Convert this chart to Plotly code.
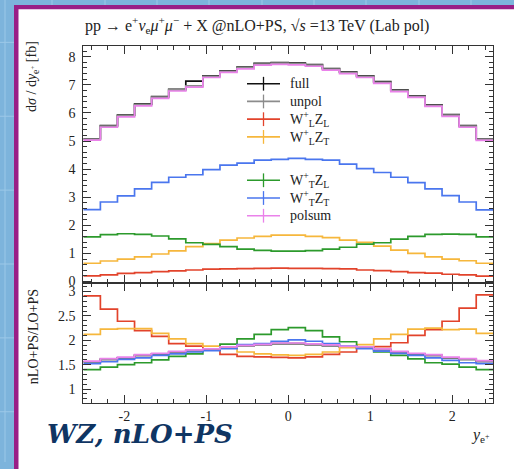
import numpy as np
import plotly.graph_objects as go

W, H = 514, 469

# ---------------- data ----------------
bin_edges = np.linspace(-2.5, 2.5, 25)

full   = [5.08, 5.55, 5.92, 6.31, 6.58, 6.84, 7.13, 7.32, 7.50, 7.63, 7.76, 7.79,
          7.77, 7.72, 7.58, 7.46, 7.32, 7.11, 6.82, 6.61, 6.29, 5.94, 5.55, 5.08]
unpol  = [5.07, 5.53, 5.90, 6.29, 6.56, 6.82, 6.96, 7.30, 7.48, 7.61, 7.74, 7.77,
          7.75, 7.70, 7.56, 7.44, 7.30, 7.09, 6.80, 6.59, 6.27, 5.92, 5.53, 5.07]
wlzl   = [0.20, 0.24, 0.29, 0.32, 0.35, 0.38, 0.41, 0.44, 0.45, 0.46, 0.47, 0.48,
          0.47, 0.47, 0.46, 0.45, 0.41, 0.39, 0.35, 0.32, 0.30, 0.26, 0.24, 0.19]
wlzt   = [0.65, 0.73, 0.80, 0.88, 0.98, 1.09, 1.24, 1.35, 1.47, 1.55, 1.61, 1.65,
          1.65, 1.61, 1.56, 1.47, 1.39, 1.26, 1.12, 1.00, 0.88, 0.80, 0.74, 0.65]
wtzl   = [1.59, 1.67, 1.70, 1.68, 1.62, 1.52, 1.38, 1.32, 1.24, 1.15, 1.11, 1.08,
          1.08, 1.10, 1.15, 1.22, 1.33, 1.38, 1.51, 1.61, 1.68, 1.69, 1.68, 1.59]
wtzt   = [2.56, 2.83, 3.05, 3.30, 3.53, 3.71, 3.80, 3.98, 4.14, 4.21, 4.32, 4.35,
          4.38, 4.35, 4.32, 4.18, 4.02, 3.88, 3.71, 3.52, 3.30, 3.06, 2.83, 2.55]
polsum = [5.03, 5.49, 5.86, 6.25, 6.52, 6.78, 6.92, 7.26, 7.44, 7.57, 7.70, 7.73,
          7.71, 7.66, 7.52, 7.40, 7.26, 7.05, 6.76, 6.55, 6.23, 5.88, 5.49, 5.02]

r_full   = [1.56, 1.61, 1.64, 1.69, 1.72, 1.76, 1.79, 1.81, 1.85, 1.88, 1.90, 1.93,
            1.93, 1.91, 1.89, 1.86, 1.85, 1.81, 1.76, 1.72, 1.69, 1.64, 1.61, 1.57]
r_unpol  = [1.56, 1.61, 1.64, 1.69, 1.72, 1.76, 1.79, 1.81, 1.85, 1.88, 1.90, 1.93,
            1.93, 1.91, 1.89, 1.86, 1.85, 1.81, 1.76, 1.72, 1.69, 1.64, 1.61, 1.57]
r_wlzl   = [2.91, 2.64, 2.39, 2.20, 2.08, 1.93, 1.88, 1.81, 1.71, 1.67, 1.66, 1.65,
            1.64, 1.66, 1.71, 1.76, 1.85, 1.87, 1.95, 2.10, 2.22, 2.39, 2.66, 2.93]
r_wlzt   = [2.12, 2.23, 2.24, 2.24, 2.14, 2.03, 1.93, 1.88, 1.85, 1.76, 1.72, 1.70,
            1.69, 1.71, 1.76, 1.85, 1.91, 2.03, 2.12, 2.23, 2.25, 2.22, 2.23, 2.14]
r_wtzl   = [1.40, 1.45, 1.50, 1.54, 1.60, 1.67, 1.72, 1.80, 1.92, 2.03, 2.12, 2.22,
            2.26, 2.20, 2.07, 1.97, 1.85, 1.76, 1.69, 1.62, 1.54, 1.51, 1.45, 1.40]
r_wtzt   = [1.52, 1.56, 1.61, 1.64, 1.69, 1.72, 1.76, 1.79, 1.83, 1.91, 1.93, 1.98,
            2.01, 1.98, 1.93, 1.88, 1.83, 1.78, 1.73, 1.69, 1.64, 1.59, 1.54, 1.52]
r_polsum = [1.575, 1.625, 1.655, 1.705, 1.735, 1.775, 1.805, 1.825, 1.865, 1.895, 1.915, 1.945,
            1.945, 1.925, 1.905, 1.875, 1.865, 1.825, 1.775, 1.735, 1.705, 1.655, 1.625, 1.585]

series_names = ["full", "unpol", "W<sup>+</sup><sub>L</sub>Z<sub>L</sub>",
                "W<sup>+</sup><sub>L</sub>Z<sub>T</sub>",
                "W<sup>+</sup><sub>T</sub>Z<sub>L</sub>",
                "W<sup>+</sup><sub>T</sub>Z<sub>T</sub>", "polsum"]
colors = ["#111111", "#8c8c8c", "#e2432b", "#f6b73c", "#2c9a2c", "#4a76ee", "#ea82ea"]
main_vals = [full, unpol, wlzl, wlzt, wtzl, wtzt, polsum]
ratio_vals = [r_full, r_unpol, r_wlzl, r_wlzt, r_wtzl, r_wtzt, r_polsum]

# ---------------- helpers ----------------
def px(x):
    return x / W

def py(y):
    return 1 - y / H

SERIF = "Liberation Serif"
AX_COL = "#333333"
BLUE_BG = "#7db4dc"

fig = go.Figure()

xs = list(bin_edges)
for vals, col, name in zip(main_vals, colors, series_names):
    fig.add_trace(go.Scatter(x=xs, y=list(vals) + [vals[-1]], mode="lines",
                             line=dict(color=col, width=1.7, shape="hv"),
                             xaxis="x", yaxis="y", showlegend=False, name=name,
                             hoverinfo="skip"))
for vals, col, name in zip(ratio_vals, colors, series_names):
    fig.add_trace(go.Scatter(x=xs, y=list(vals) + [vals[-1]], mode="lines",
                             line=dict(color=col, width=1.7, shape="hv"),
                             xaxis="x2", yaxis="y2", showlegend=False, name=name,
                             hoverinfo="skip"))

# ---------------- background / panel shapes ----------------
shapes = []
shapes.append(dict(type="rect", xref="paper", yref="paper", x0=0, x1=1, y0=0, y1=1,
                   fillcolor=BLUE_BG, line=dict(width=0), layer="below"))
for gx in [5, 52, 105, 157, 209, 262, 314, 366, 419, 471]:
    shapes.append(dict(type="line", xref="paper", yref="paper", x0=px(gx), x1=px(gx),
                       y0=0, y1=1, line=dict(color="#9cc8e8", width=1), layer="below"))
for gy in [43, 118, 193, 268, 343, 418]:
    shapes.append(dict(type="line", xref="paper", yref="paper", x0=0, x1=1,
                       y0=py(gy), y1=py(gy), line=dict(color="#9cc8e8", width=1), layer="below"))
shapes.append(dict(type="rect", xref="paper", yref="paper", x0=px(14), x1=1.05,
                   y0=-0.05, y1=py(5), fillcolor="#991f86", line=dict(width=0), layer="below"))
shapes.append(dict(type="rect", xref="paper", yref="paper", x0=px(18.5), x1=1.05,
                   y0=-0.05, y1=py(9.5), fillcolor="#ffffff", line=dict(width=0), layer="below"))

# ---------------- legend (manual) ----------------
annotations = []
leg_y = [85, 103, 121, 139, 183, 201, 219]
for yy, col, name in zip(leg_y, colors, series_names):
    shapes.append(dict(type="line", xref="paper", yref="paper", x0=px(247), x1=px(280),
                       y0=py(yy), y1=py(yy), line=dict(color=col, width=1.7)))
    shapes.append(dict(type="line", xref="paper", yref="paper", x0=px(263.5), x1=px(263.5),
                       y0=py(yy - 7), y1=py(yy + 7), line=dict(color=col, width=1.3)))
    annotations.append(dict(text=name, xref="paper", yref="paper", x=px(288), y=py(yy),
                            xanchor="left", yanchor="middle", showarrow=False,
                            font=dict(family=SERIF, size=14, color="#222222")))

# ---------------- texts ----------------
annotations.append(dict(
    text=("pp → e<sup>+</sup><i>ν</i><sub>e</sub><i>μ</i><sup>+</sup><i>μ</i><sup>−</sup>"
          " + X @nLO+PS, √<i>s</i> =13 TeV (Lab pol)"),
    xref="paper", yref="paper", x=px(83), y=py(25), xanchor="left", yanchor="middle",
    showarrow=False, font=dict(family=SERIF, size=16, color="#222222")))
annotations.append(dict(
    text="d<i>σ</i> / d<i>y</i><sub>e<sup>+</sup></sub> [fb]",
    xref="paper", yref="paper", x=px(33), y=py(40), xanchor="center", yanchor="top",
    textangle=-90, showarrow=False, font=dict(family=SERIF, size=14, color="#222222")))
annotations.append(dict(
    text="nLO+PS/LO+PS",
    xref="paper", yref="paper", x=px(33), y=py(292), xanchor="center", yanchor="top",
    textangle=-90, showarrow=False, font=dict(family=SERIF, size=14, color="#222222")))
annotations.append(dict(
    text="<i>y</i><sub>e<sup>+</sup></sub>",
    xref="paper", yref="paper", x=px(492), y=py(442), xanchor="right", yanchor="middle",
    showarrow=False, font=dict(family=SERIF, size=16, color="#222222")))
annotations.append(dict(
    text="<b><i>WZ, nLO+PS</i></b>",
    xref="paper", yref="paper", x=px(45), y=py(441), xanchor="left", yanchor="middle",
    showarrow=False, font=dict(family="DejaVu Serif", size=26, color="#0f3563")))

# ---------------- axes ----------------
common_x = dict(range=[-2.5, 2.5], ticks="inside", ticklen=8, tickwidth=1, tickcolor=AX_COL,
                showline=True, linecolor=AX_COL, linewidth=1, mirror="allticks",
                showgrid=False, zeroline=False,
                tickvals=[-2, -1, 0, 1, 2], ticktext=["-2", "-1", "0", "1", "2"],
                minor=dict(dtick=0.2, tick0=0, ticks="inside", ticklen=4,
                           tickcolor=AX_COL, showgrid=False),
                domain=[px(83.3), px(493.3)],
                tickfont=dict(family=SERIF, size=14, color="#222222"))

xaxis = dict(common_x, anchor="y", showticklabels=False, matches="x2")
xaxis2 = dict(common_x, anchor="y2")

yaxis = dict(range=[-0.042, 8.37], domain=[py(287), py(47)], anchor="x",
             ticks="inside", ticklen=8, tickwidth=1, tickcolor=AX_COL,
             showline=True, linecolor=AX_COL, linewidth=1, mirror="allticks",
             showgrid=False, zeroline=False,
             tickvals=[0, 1, 2, 3, 4, 5, 6, 7, 8],
             minor=dict(dtick=0.2, tick0=0, ticks="inside", ticklen=4,
                        tickcolor=AX_COL, showgrid=False),
             ticklabelstandoff=4,
             tickfont=dict(family=SERIF, size=14, color="#222222"))
yaxis2 = dict(range=[0.717, 3.18], domain=[py(409), py(287)], anchor="x2",
              ticks="inside", ticklen=8, tickwidth=1, tickcolor=AX_COL,
              showline=True, linecolor=AX_COL, linewidth=1, mirror="allticks",
              showgrid=False, zeroline=False,
              tickvals=[1, 1.5, 2, 2.5, 3], ticktext=["1", "1.5", "2", "2.5", "3"],
              minor=dict(dtick=0.1, tick0=0, ticks="inside", ticklen=4,
                         tickcolor=AX_COL, showgrid=False),
              ticklabelstandoff=4,
              tickfont=dict(family=SERIF, size=14, color="#222222"))

fig.update_layout(
    width=W, height=H, margin=dict(l=0, r=0, t=0, b=0),
    paper_bgcolor=BLUE_BG, plot_bgcolor="rgba(0,0,0,0)",
    xaxis=xaxis, xaxis2=xaxis2, yaxis=yaxis, yaxis2=yaxis2,
    shapes=shapes, annotations=annotations, showlegend=False,
)

fig.write_html("out.html",
               config={"displayModeBar": False},
               post_script="document.body.style.margin='0';"
                           "document.body.style.background='" + BLUE_BG + "';")
